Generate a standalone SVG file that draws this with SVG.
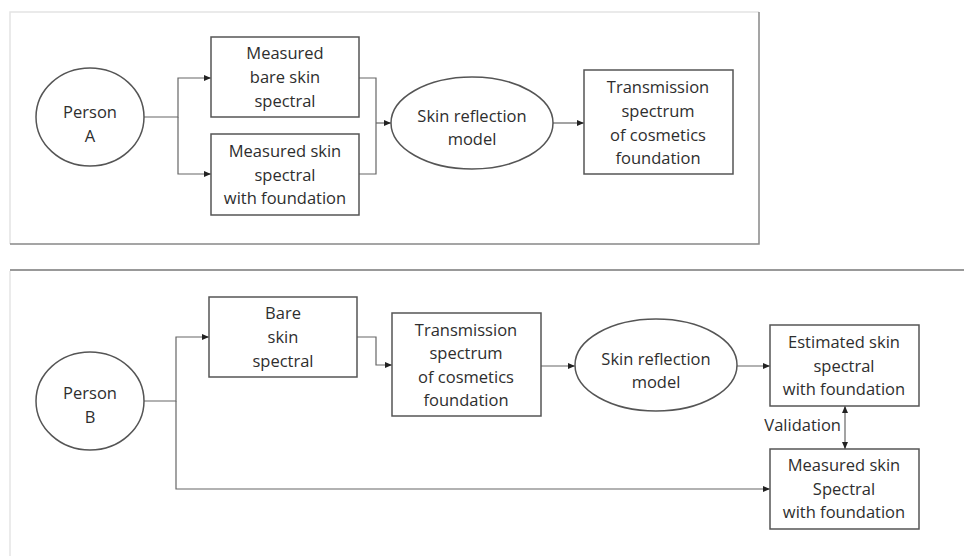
<svg xmlns="http://www.w3.org/2000/svg" width="964" height="556" viewBox="0 0 964 556">
<defs>
<style>
text{font-family:"Open Sans","Liberation Sans",sans-serif;font-size:16.5px;fill:#2e2e2e;text-anchor:middle}
.n{fill:#fff;stroke:#555;stroke-width:1.5}
.c{fill:none;stroke:#666;stroke-width:1.2}
</style>
<marker id="ah" markerWidth="8" markerHeight="8" refX="7" refY="4" orient="auto" markerUnits="userSpaceOnUse">
<path d="M0,1 L7,4 L0,7 Z" fill="#222"/>
</marker>
<marker id="as" markerWidth="8" markerHeight="8" refX="0" refY="4" orient="auto" markerUnits="userSpaceOnUse">
<path d="M7,1 L0,4 L7,7 Z" fill="#222"/>
</marker>
</defs>
<rect width="964" height="556" fill="#fff"/>
<g id="frames">
<path d="M10,244 L10,12 L759,12" fill="none" stroke="#e4e4e4" stroke-width="1.5"/>
<path d="M10,244 L759,244 L759,12" fill="none" stroke="#888" stroke-width="1.5"/>
<path d="M10,270 L964,270" fill="none" stroke="#777" stroke-width="1.5"/>
<path d="M10,271 L10,556" fill="none" stroke="#e4e4e4" stroke-width="1.5"/>
</g>
<g id="connectors">
<path class="c" d="M144,117 H178 V78 H211" marker-end="url(#ah)"/>
<path class="c" d="M178,117 V174 H211" marker-end="url(#ah)"/>
<path class="c" d="M359,78 H376 V174 H359"/>
<path class="c" d="M376,123 H391" marker-end="url(#ah)"/>
<path class="c" d="M553,123 H584" marker-end="url(#ah)"/>
<path class="c" d="M144,401 H176 V337 H209" marker-end="url(#ah)"/>
<path class="c" d="M176,401 V489 H770" marker-end="url(#ah)"/>
<path class="c" d="M357,337 H376 V365 H392" marker-end="url(#ah)"/>
<path class="c" d="M541,366 H575" marker-end="url(#ah)"/>
<path class="c" d="M737,366 H770" marker-end="url(#ah)"/>
<path class="c" d="M845,406 V449" marker-start="url(#as)" marker-end="url(#ah)"/>
<text x="841" y="431" style="text-anchor:end">Validation</text>
</g>
<g id="personA">
<ellipse class="n" cx="90" cy="117" rx="54" ry="49"/>
<text x="90" y="118">Person</text><text x="90" y="142">A</text>
</g>
<g id="bareA">
<rect class="n" x="211" y="37" width="148" height="80"/>
<text x="285" y="59">Measured</text><text x="285" y="83">bare skin</text><text x="285" y="107">spectral</text>
</g>
<g id="foundA">
<rect class="n" x="211" y="134" width="148" height="81"/>
<text x="285" y="157">Measured skin</text><text x="285" y="181">spectral</text><text x="285" y="204">with foundation</text>
</g>
<g id="modelA">
<ellipse class="n" cx="472" cy="123" rx="81" ry="46"/>
<text x="472" y="122">Skin reflection</text><text x="472" y="145">model</text>
</g>
<g id="transA">
<rect class="n" x="584" y="70" width="149" height="104"/>
<text x="658" y="93">Transmission</text><text x="658" y="117">spectrum</text><text x="658" y="141">of cosmetics</text><text x="658" y="164">foundation</text>
</g>
<g id="personB">
<ellipse class="n" cx="90" cy="401" rx="54" ry="49"/>
<text x="90" y="399">Person</text><text x="90" y="423">B</text>
</g>
<g id="bareB">
<rect class="n" x="209" y="297" width="148" height="80"/>
<text x="283" y="319">Bare</text><text x="283" y="343">skin</text><text x="283" y="367">spectral</text>
</g>
<g id="transB">
<rect class="n" x="392" y="313" width="149" height="103"/>
<text x="466" y="336">Transmission</text><text x="466" y="359">spectrum</text><text x="466" y="383">of cosmetics</text><text x="466" y="406">foundation</text>
</g>
<g id="modelB">
<ellipse class="n" cx="656" cy="365" rx="81" ry="46"/>
<text x="656" y="365">Skin reflection</text><text x="656" y="388">model</text>
</g>
<g id="estB">
<rect class="n" x="770" y="325" width="149" height="81"/>
<text x="844" y="348">Estimated skin</text><text x="844" y="372">spectral</text><text x="844" y="395">with foundation</text>
</g>
<g id="measB">
<rect class="n" x="770" y="449" width="149" height="80"/>
<text x="844" y="471">Measured skin</text><text x="844" y="495">Spectral</text><text x="844" y="518">with foundation</text>
</g>
</svg>
